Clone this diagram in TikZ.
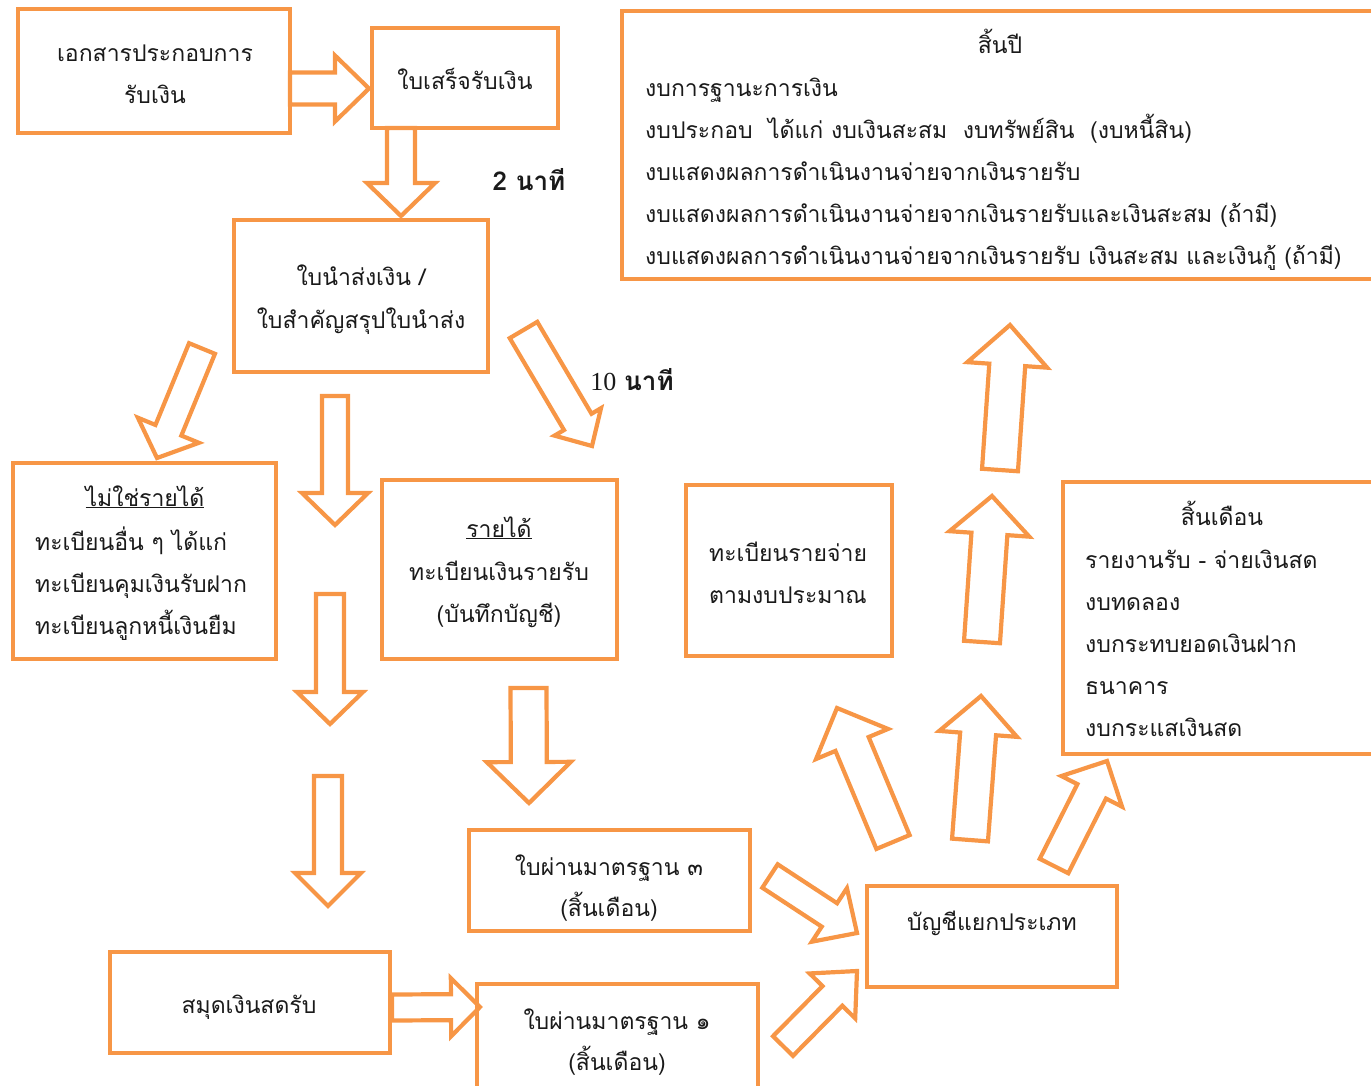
\documentclass[tikz,border=0pt]{standalone}
\usepackage{fontspec}
\usetikzlibrary{calc}
\newfontfamily\thai[Script=Thai]{Loma}
\newfontfamily\tnr{Liberation Serif}
\definecolor{orng}{HTML}{F79646}
\definecolor{ink}{HTML}{1A1A1A}
\tikzset{
  boxx/.style={draw=orng, line width=4pt},
  barrow/.style={draw=orng, line width=4.2pt, line join=miter},
  tx/.style={anchor=base, inner sep=0pt, text=ink, font=\thai\fontsize{23}{23}\selectfont},
  txl/.style={tx, anchor=base west},
}
\newcommand\barr[5]{%
  \coordinate (ab) at ($(#2)!#5pt!(#1)$);
  \draw[barrow] ($(#1)!#3pt!90:(#2)$) -- ($(ab)!#3pt!90:(#2)$) -- ($(ab)!#4pt!90:(#2)$) -- (#2)
    -- ($(ab)!#4pt!-90:(#2)$) -- ($(ab)!#3pt!-90:(#2)$) -- ($(#1)!#3pt!-90:(#2)$) -- cycle;}
\begin{document}
\begin{tikzpicture}[x=1pt,y=-1pt]
\useasboundingbox (0,0) rectangle (1371,1085);
\clip (0,0) rectangle (1371,1085);
% boxes
\draw[boxx] (18,9) rectangle (290,133);
\draw[boxx] (372,28) rectangle (558,128);
\draw[boxx] (234,220) rectangle (488,372);
\draw[boxx] (13,463) rectangle (276,659);
\draw[boxx] (382,480) rectangle (617,659);
\draw[boxx] (686,485) rectangle (892,656);
\draw[boxx] (622,11) rectangle (1400,279);
\draw[boxx] (1063,482) rectangle (1400,754);
\draw[boxx] (469,830) rectangle (750,931);
\draw[boxx] (867,886) rectangle (1117,987);
\draw[boxx] (110,952) rectangle (390,1053);
\draw[boxx] (477,984) rectangle (758,1100);
% arrow end points
\coordinate (a1t) at (290,88.5);  \coordinate (a1h) at (369,88.5);
\coordinate (a2t) at (401,128);   \coordinate (a2h) at (401,216);
\coordinate (a3t) at (202,348.5); \coordinate (a3h) at (157,458);
\coordinate (a4t) at (335,396);   \coordinate (a4h) at (335,525);
\coordinate (a5t) at (330,594);   \coordinate (a5h) at (330,724);
\coordinate (a6t) at (328,776);   \coordinate (a6h) at (328,906);
\coordinate (a7t) at (523.5,330); \coordinate (a7h) at (592,446);
\coordinate (a8t) at (528.5,688); \coordinate (a8h) at (529,803);
\coordinate (a9t) at (392,1007.5);\coordinate (a9h) at (480,1007);
\coordinate (a10t) at (770,876);  \coordinate (a10h) at (857,933);
\coordinate (a11t) at (783,1046); \coordinate (a11h) at (857,971);
\coordinate (a12t) at (893,842);  \coordinate (a12h) at (837,708);
\coordinate (a13t) at (970,840);  \coordinate (a13h) at (981,696);
\coordinate (a14t) at (1054,866); \coordinate (a14h) at (1107,761);
\coordinate (a15t) at (982,642);  \coordinate (a15h) at (992,496);
\coordinate (a16t) at (1000,470); \coordinate (a16h) at (1010,325);
% block arrows
\barr{a1t}{a1h}{16}{33}{34}
\barr{a2t}{a2h}{14}{34}{33}
\barr{a3t}{a3h}{14}{33}{30}
\barr{a4t}{a4h}{13}{33}{32}
\barr{a5t}{a5h}{14}{33}{32}
\barr{a6t}{a6h}{14}{33}{33}
\barr{a7t}{a7h}{16}{27}{28}
\barr{a8t}{a8h}{18}{42}{41}
\barr{a9t}{a9h}{13}{29}{29}
\barr{a10t}{a10h}{14}{32}{33}
\barr{a11t}{a11h}{14}{32}{35}
\barr{a12t}{a12h}{18}{39}{39}
\barr{a13t}{a13h}{18}{39}{38}
\barr{a14t}{a14h}{16}{34}{34}
\barr{a15t}{a15h}{18}{40}{38}
\barr{a16t}{a16h}{18}{40}{40}
% texts
\node[tx] (t1a) at (155,61) {เอกสารประกอบการ};
\node[tx] (t1b) at (155,103) {รับเงิน};
\node[tx] (t2) at (465,89) {ใบเสร็จรับเงิน};
\node[tx] (t3a) at (361,285) {ใบนำส่งเงิน /};
\node[tx] (t3b) at (361,328) {ใบสำคัญสรุปใบนำส่ง};
\node[tx] (t4a) at (145,506) {\underline{ไม่ใช่รายได้}};
\node[txl] (t4b) at (35,550) {ทะเบียนอื่น ๆ ได้แก่};
\node[txl] (t4c) at (35,592) {ทะเบียนคุมเงินรับฝาก};
\node[txl] (t4d) at (35,634) {ทะเบียนลูกหนี้เงินยืม};
\node[tx] (t5a) at (499,537) {\underline{รายได้}};
\node[tx] (t5b) at (499,580) {ทะเบียนเงินรายรับ};
\node[tx] (t5c) at (499,622) {(บันทึกบัญชี)};
\node[txl] (t6a) at (709,561) {ทะเบียนรายจ่าย};
\node[txl] (t6b) at (709,603) {ตามงบประมาณ};
\node[tx] (t7a) at (1000,53) {สิ้นปี};
\node[txl] (t7b) at (645,96) {งบการฐานะการเงิน};
\node[txl] (t7c) at (645,138) {งบประกอบ\ \ ได้แก่ งบเงินสะสม\ \ งบทรัพย์สิน\ \ (งบหนี้สิน)};
\node[txl] (t7d) at (645,180) {งบแสดงผลการดำเนินงานจ่ายจากเงินรายรับ};
\node[txl] (t7e) at (645,222) {งบแสดงผลการดำเนินงานจ่ายจากเงินรายรับและเงินสะสม (ถ้ามี)};
\node[txl] (t7f) at (645,264) {งบแสดงผลการดำเนินงานจ่ายจากเงินรายรับ เงินสะสม และเงินกู้ (ถ้ามี)};
\node[tx] (t8a) at (1222,525) {สิ้นเดือน};
\node[txl] (t8b) at (1085,568) {รายงานรับ - จ่ายเงินสด};
\node[txl] (t8c) at (1085,610) {งบทดลอง};
\node[txl] (t8d) at (1085,652) {งบกระทบยอดเงินฝาก};
\node[txl] (t8e) at (1085,694) {ธนาคาร};
\node[txl] (t8f) at (1085,736) {งบกระแสเงินสด};
\node[tx] (t9a) at (609,875) {ใบผ่านมาตรฐาน ๓};
\node[tx] (t9b) at (609,916) {(สิ้นเดือน)};
\node[tx] (t10) at (992,930) {บัญชีแยกประเภท};
\node[tx] (t11) at (249,1013) {สมุดเงินสดรับ};
\node[tx] (t12a) at (617,1029) {ใบผ่านมาตรฐาน ๑};
\node[tx] (t12b) at (617,1070) {(สิ้นเดือน)};
\node[tx, font=\thai\bfseries\fontsize{26}{26}\selectfont] (m2) at (529,190) {2 นาที};
\node[tx, font=\fontsize{26}{26}\selectfont] (m10) at (632,390) {{\tnr 10} {\thai\bfseries นาที}};
\end{tikzpicture}
\end{document}
